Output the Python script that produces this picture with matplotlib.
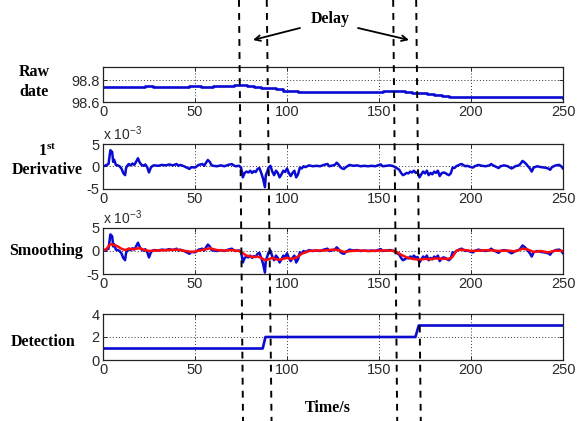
import matplotlib
matplotlib.use("Agg")
import matplotlib.pyplot as plt
from matplotlib.lines import Line2D
from matplotlib.transforms import blended_transform_factory

# ---------------- data ----------------
raw_t = [0, 2, 3, 22, 23, 26, 27, 46, 47, 52, 53, 60, 61, 70, 71, 75, 78, 82, 86, 90, 94, 98,
         102, 106, 110, 130, 150, 152, 160, 164, 168, 172, 176, 180, 184, 188, 192, 200, 225, 250]
raw_v = [98.735, 98.735, 98.74, 98.74, 98.745, 98.745, 98.74, 98.74, 98.745, 98.745, 98.74,
         98.745, 98.75, 98.75, 98.755, 98.755, 98.75, 98.74, 98.73, 98.725, 98.715, 98.705,
         98.70, 98.695, 98.69, 98.69, 98.695, 98.70, 98.70, 98.69, 98.685, 98.68, 98.67,
         98.66, 98.655, 98.65, 98.645, 98.645, 98.643, 98.64]

der_t = [0, 1, 2, 3, 4, 5, 5.5, 6, 7, 8, 9, 10, 11, 12, 12.5, 13, 14, 15, 16, 17, 18, 19, 20,
         21, 22, 23, 24, 25, 26, 27, 28, 30, 32, 34, 36, 38, 40, 41, 42, 44, 46, 47, 48, 50,
         51, 52, 54, 55, 56, 57, 58, 59, 60, 62, 64, 66, 68, 70, 71, 72, 74, 75, 75.5, 76, 77,
         78, 79, 80, 81, 82, 83, 84, 85, 86, 87, 88, 88.5, 89, 90, 91, 92, 93, 94, 95, 96, 97,
         98, 99, 100, 101, 102, 103, 104, 105, 106, 107, 108, 109, 110, 112, 114, 116, 118,
         120, 122, 123, 124, 126, 127, 128, 129, 130, 131, 132, 134, 136, 138, 140, 142, 144,
         146, 148, 150, 151, 152, 154, 156, 158, 159, 160, 161, 162, 163, 164, 165, 166, 167,
         168, 169, 170, 171, 172, 173, 174, 175, 176, 177, 178, 179, 180, 181, 182, 183, 184,
         185, 186, 187, 188, 189, 190, 191, 192, 193, 194, 195, 196, 197, 198, 200, 201, 202,
         204, 206, 208, 210, 211, 212, 214, 215, 216, 218, 220, 222, 223, 224, 226, 227, 228,
         229, 230, 231, 232, 233, 234, 236, 238, 240, 242, 243, 244, 246, 248, 249, 250]
der_v = [0, 0.1, 0.3, 0.5, 3.6, 3.2, 1.0, 1.5, 0.3, 0.2, 0, -0.5, -1.5, -2.0, -0.5, 0.0, 0.5,
         0.2, 0.6, 0.3, 1.0, 1.8, 0.8, 0.3, 0.1, 0.4, -0.2, -1.4, -0.3, 0.1, 0.2, 0.1, 0.3,
         0.2, 0.4, 0.2, 0.5, 0.1, 0.3, 0.0, -0.4, -0.6, -0.2, -0.3, 0.0, 0.3, 0.5, 0.1, 0.8,
         1.4, 1.0, 0.2, 0.1, 0.0, 0.2, 0.0, 0.3, 0.5, 0.2, 0.0, 0.1, -0.3, -1.2, -2.5, -1.5,
         -1.2, -1.4, -1.0, -1.5, -1.1, -1.3, -0.6, -0.4, -1.5, -2.8, -4.7, -2.0, -1.5, -0.3,
         0.1, -1.2, -2.0, -1.0, -1.5, -2.5, -1.8, -1.0, -1.3, -0.5, -1.5, -2.2, -1.5, -1.0,
         -2.5, -1.8, -0.3, -0.5, 0.0, -0.2, 0.2, 0.0, 0.1, 0.0, 0.3, 0.5, 0.0, 0.1, 0.3, 0.8,
         0.4, -0.2, -0.5, -0.6, -0.2, 0.3, 0.1, 0.2, 0.0, 0.1, 0.0, 0.1, 0.0, 0.3, 0.4, 0.0,
         0.1, 0.2, 0.0, -0.3, -0.5, -0.8, -1.5, -2.0, -1.8, -1.5, -1.6, -1.2, -1.4, -1.0, -1.5,
         -1.3, -2.5, -1.8, -1.2, -1.6, -1.0, -2.0, -1.5, -1.8, -1.2, -1.5, -1.0, -2.2, -1.6,
         -1.4, -1.5, -1.8, -2.0, -1.6, -0.3, -0.4, 0.0, 0.2, 0.4, 0.5, 0.2, 0.0, 0.1, -0.2,
         -0.3, 0.0, 0.3, 0.1, 0.0, 0.2, 0.5, 0.2, -0.2, -0.4, 0.0, 0.2, 0.0, -0.5, -0.3, 0.0,
         0.2, 0.6, 1.2, 0.9, 0.5, 0.0, -0.5, -1.2, -0.3, 0.0, -0.2, -0.3, -0.5, -0.8, -0.2,
         0.2, 0.3, 0.0, -0.5]

smooth_t = [0, 2, 4, 6, 8, 10, 12, 14, 16, 18, 20, 22, 25, 28, 30, 35, 40, 45, 48, 50, 55, 58,
            62, 66, 70, 74, 76, 78, 80, 82, 84, 86, 88, 90, 92, 94, 96, 98, 100, 102, 104, 106,
            108, 110, 112, 115, 120, 125, 128, 131, 135, 140, 145, 150, 155, 158, 160, 162,
            164, 166, 168, 170, 172, 175, 178, 181, 184, 187, 189, 190, 191, 192, 194, 197,
            200, 205, 210, 215, 220, 224, 228, 231, 234, 238, 242, 246, 250]
smooth_v = [0, 0.5, 1.5, 1.3, 1.0, 0.5, 0.2, 0.5, 0.4, 0.5, 0.6, 0.3, 0.0, 0.1, 0.1, 0.2, 0.3,
            0.0, -0.2, -0.1, 0.3, 0.6, 0.2, 0.1, 0.2, 0.0, -0.5, -1.0, -1.2, -1.3, -1.2, -1.5,
            -2.0, -1.8, -1.5, -1.8, -1.9, -1.7, -1.5, -1.7, -1.6, -1.2, -0.6, -0.3, 0.0, 0.1,
            0.1, 0.3, 0.2, -0.2, 0.0, 0.1, 0.0, 0.1, 0.1, 0.0, -0.3, -0.8, -1.2, -1.5, -1.7,
            -1.8, -1.9, -1.7, -1.8, -1.6, -1.7, -1.7, -1.6, -1.2, -0.6, 0.0, 0.3, 0.2, 0.0,
            0.1, 0.2, 0.0, 0.1, -0.1, 0.5, 0.3, -0.2, 0.0, -0.3, 0.1, 0.0]

det_t = [0, 86.8, 88.3, 169.8, 171.6, 250]
det_v = [1, 1, 2, 2, 3, 3]

delay_top = [73.9, 89.0, 157.7, 170.2]
delay_bottom = [76.1, 91.6, 159.9, 172.7]

xticks = [0, 50, 100, 150, 200, 250]

# ---------------- figure ----------------
W, H = 581, 421
fig = plt.figure(figsize=(W / 100, H / 100), dpi=100)
fig.patch.set_facecolor("white")

left, width = 103 / W, 460 / W
rects = [(67, 102), (144, 188.5), (228, 274), (314, 360)]
axes = []
for top, bot in rects:
    ax = fig.add_axes([left, 1 - bot / H, width, (bot - top) / H])
    axes.append(ax)

tickfont = dict(family="Liberation Sans", size=10.5)
tcol = "#2a2a2a"
blue = "#0a0ad2"
red = "#ff0a0a"

for ax in axes:
    ax.set_xlim(0, 250)
    ax.set_xticks(xticks)
    ax.set_xticklabels([str(v) for v in xticks], fontdict=tickfont, color=tcol)
    ax.tick_params(direction="in", length=3, width=0.7, top=True, right=True, pad=2.5,
                   colors=tcol)
    ax.grid(True, linestyle=(0, (1, 2.2)), color="#333333", linewidth=0.7)
    for s in ax.spines.values():
        s.set_linewidth(0.9)
        s.set_color("#222222")

ax1, ax2, ax3, ax4 = axes

ax1.plot(raw_t, raw_v, color=blue, lw=1.9, drawstyle="steps-post")
ax1.set_ylim(98.6, 98.92)
ax1.set_yticks([98.6, 98.8])
ax1.set_yticklabels(["98.6", "98.8"], fontdict=tickfont, color=tcol)

ax2.plot(der_t, der_v, color=blue, lw=1.8)
ax3.plot(der_t, der_v, color=blue, lw=1.8)
ax3.plot(smooth_t, smooth_v, color=red, lw=1.8)
for ax in (ax2, ax3):
    ax.set_ylim(-5, 5)
    ax.set_yticks([-5, 0, 5])
    ax.set_yticklabels(["-5", "0", "5"], fontdict=tickfont, color=tcol)
    ax.text(0.0, 1.03, r"x 10$^{\mathregular{-3}}$", transform=ax.transAxes,
            ha="left", va="bottom", family="Liberation Sans", size=10, color=tcol)

ax4.plot(det_t, det_v, color=blue, lw=1.9)
ax4.set_ylim(0, 4)
ax4.set_yticks([0, 2, 4])
ax4.set_yticklabels(["0", "2", "4"], fontdict=tickfont, color=tcol)

# left row labels
lab = dict(family="Liberation Serif", weight="bold", size=11.5, color="black")
fig.text(34 / W, 1 - 82 / H, "Raw\ndate", ha="center", va="center", linespacing=1.3, **lab)
fig.text(47 / W, 1 - 151 / H, r"1$^{\mathregular{st}}$", ha="center", va="center", **lab)
fig.text(47 / W, 1 - 170 / H, "Derivative", ha="center", va="center", **lab)
fig.text(46 / W, 1 - 251 / H, "Smoothing", ha="center", va="center", **lab)
fig.text(43 / W, 1 - 342 / H, "Detection", ha="center", va="center", **lab)
fig.text(328 / W, 1 - 408 / H, "Time/s", ha="center", va="center", **lab)
fig.text(330 / W, 1 - 19 / H, "Delay", ha="center", va="center", **lab)

# arrows from "Delay"
arrow = dict(arrowstyle="->", color="black", lw=1.3, shrinkA=0, shrinkB=0)
fig.add_artist(matplotlib.patches.FancyArrowPatch((300 / W, 1 - 28 / H), (253 / W, 1 - 40 / H),
                                                  transform=fig.transFigure, mutation_scale=10,
                                                  **arrow))
fig.add_artist(matplotlib.patches.FancyArrowPatch((358 / W, 1 - 28 / H), (409 / W, 1 - 40 / H),
                                                  transform=fig.transFigure, mutation_scale=10,
                                                  **arrow))

# dashed delay markers spanning the full figure height
trans = blended_transform_factory(ax4.transData, fig.transFigure)
for xt, xb in zip(delay_top, delay_bottom):
    ln = Line2D([xt, xb], [1.0, 0.0], transform=trans, color="black", lw=1.4,
                linestyle=(0, (3.5, 3.2)), clip_on=False)
    fig.add_artist(ln)

fig.savefig("out.png", dpi=100, facecolor="white")
